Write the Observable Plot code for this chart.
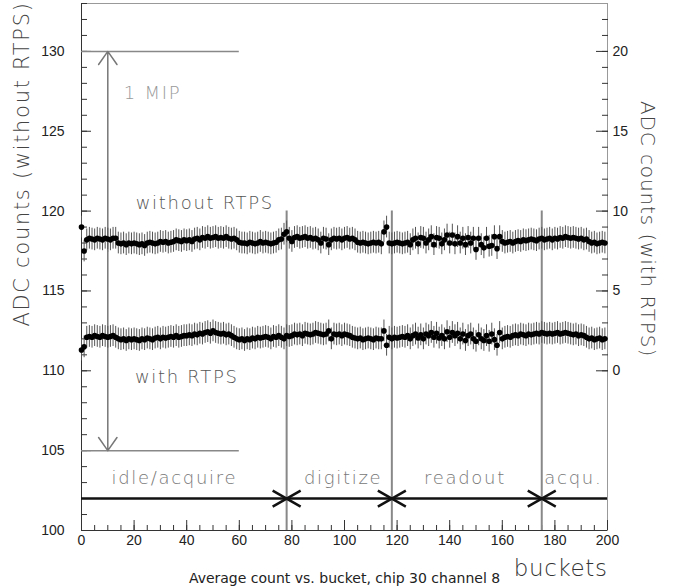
<!DOCTYPE html>
<html><head><meta charset="utf-8">
<script src="https://cdn.jsdelivr.net/npm/d3@7"></script>
<script src="https://cdn.jsdelivr.net/npm/@observablehq/plot@0.6"></script>
<style>
body{margin:0;background:#fff}
svg g[aria-label="text"] text{letter-spacing:1.7px}
</style>
</head><body><div id="chart"></div>
<script>
// ---- data ----
const withoutRTPS = [
119.0,117.5,118.2,118.3,118.25,118.2,118.3,118.25,118.2,118.3,
118.25,118.2,118.3,118.3,118.0,117.95,118.0,117.9,118.0,117.95,
118.0,117.95,117.9,117.95,117.85,118.0,118.05,118.0,117.95,118.0,
118.1,118.05,118.1,118.0,118.05,118.1,118.2,118.15,118.1,118.2,
118.15,118.2,118.1,118.25,118.3,118.2,118.35,118.3,118.4,118.3,
118.35,118.4,118.3,118.35,118.3,118.4,118.3,118.25,118.3,118.2,
118.05,118.0,118.0,117.95,118.05,118.0,117.95,118.0,118.1,118.0,
118.05,118.0,117.95,118.0,118.05,118.2,118.25,118.55,118.7,118.3,
118.1,118.35,118.4,118.3,118.35,118.4,118.3,118.35,118.25,118.3,
118.2,118.0,118.3,118.25,117.9,118.2,118.3,118.25,118.3,118.2,
118.3,118.35,118.25,118.3,118.2,118.05,118.0,118.05,118.0,117.95,
118.0,118.05,118.0,118.05,117.95,118.7,119.0,118.0,117.95,118.0,
118.05,118.0,117.95,118.0,118.05,117.9,118.2,118.3,117.95,118.35,
118.3,118.0,118.2,118.4,117.9,118.35,118.3,117.95,118.2,118.5,
118.0,118.5,117.95,118.4,118.0,118.3,117.9,118.35,118.0,118.3,
117.6,118.3,117.9,117.7,118.3,117.8,117.85,118.4,117.65,118.4,
118.1,118.0,118.05,118.1,118.0,118.1,118.15,118.1,118.2,118.15,
118.2,118.25,118.2,118.15,118.25,118.3,118.2,118.25,118.3,118.2,
118.3,118.25,118.35,118.3,118.4,118.35,118.3,118.35,118.3,118.25,
118.3,118.2,118.25,118.1,118.0,118.05,117.95,118.0,118.05,118.0
];
const withRTPS = [
111.3,111.5,112.1,112.15,112.1,112.2,112.15,112.1,112.2,112.15,
112.1,112.15,112.2,112.1,112.0,111.95,112.0,111.9,112.0,111.95,
112.0,111.95,111.9,112.0,111.95,112.05,112.0,111.95,112.05,112.1,
112.0,112.1,112.05,112.1,112.15,112.1,112.2,112.1,112.15,112.2,
112.2,112.25,112.2,112.3,112.25,112.35,112.3,112.4,112.45,112.35,
112.5,112.4,112.35,112.3,112.35,112.25,112.3,112.2,112.1,112.0,
111.95,112.0,111.9,112.0,111.95,112.05,112.0,112.1,112.05,112.1,
112.15,112.1,112.0,112.15,112.1,112.2,112.1,112.0,112.2,112.15,
112.2,112.3,112.25,112.3,112.2,112.35,112.3,112.25,112.3,112.4,
112.35,112.3,112.25,112.3,112.5,112.0,112.3,112.25,112.3,112.2,
112.3,112.25,112.2,112.1,112.05,112.0,112.05,111.95,112.0,112.05,
112.0,111.95,112.05,112.0,112.0,112.5,111.6,112.1,112.0,112.1,
112.05,112.1,112.15,112.1,112.2,112.0,112.2,112.3,112.05,112.25,
112.0,112.3,112.2,112.4,112.1,112.35,112.05,112.2,112.0,112.45,
112.1,112.4,112.2,112.35,112.0,112.3,111.9,112.2,112.3,112.0,
111.85,112.25,112.0,111.9,112.2,111.85,112.3,111.95,111.6,112.4,
112.0,112.1,112.15,112.1,112.2,112.25,112.2,112.3,112.25,112.2,
112.3,112.25,112.3,112.35,112.3,112.4,112.35,112.3,112.35,112.3,
112.35,112.4,112.3,112.35,112.4,112.35,112.3,112.25,112.3,112.2,
112.25,112.2,112.1,112.0,112.05,111.95,112.0,112.05,111.95,112.0
];
const errWithout = 0.68;
const errWith = 0.68;
const bucketIndex = withoutRTPS.map((_, i) => i);

const xTicks = [0,20,40,60,80,100,120,140,160,180,200];
const xMinorTicks = d3.range(0, 201, 5);
const yTicksLeft = [100,105,110,115,120,125,130];
const yMinorLeft = d3.range(100, 134, 1);
const rightOffset = 110;             // right axis = left axis - 110
const yTicksRight = [0,5,10,15,20];
const yMinorRight = d3.range(0, 23, 1);

const phaseBoundaries = [78, 118, 175];
const phaseLabels = ["idle/acquire", "digitize", "readout", "acqu."];
const phaseLabelX = [35.3, 99.5, 145.8, 187];
const phaseLabelY = 103.3;
const phaseLineY = 102;
const boundaryTop = 120;

const mipLow = 105, mipHigh = 130, mipX = 10, mipLineEnd = 60;
const seriesLabels = ["without RTPS", "with RTPS", "1 MIP"];
const seriesLabelX = [20.6, 20.3, 16.1];
const seriesLabelY = [120.48, 109.57, 127.38];

// ---- chart ----
const rows = bucketIndex.map(i => ({b: i, a: withoutRTPS[i], r: withRTPS[i]}));
const wideX = {draw(ctx) { const w = 14, h = 8; ctx.moveTo(-w,-h); ctx.lineTo(w,h); ctx.moveTo(-w,h); ctx.lineTo(w,-h); }};
const annFont = "DejaVu Sans, sans-serif";

const chart = Plot.plot({
  width: 678, height: 586,
  marginLeft: 81, marginRight: 71, marginTop: 3, marginBottom: 56,
  x: {domain: [0, 200]},
  y: {domain: [100, 133]},
  style: {fontFamily: "Liberation Sans, Arial, sans-serif", fontSize: "14px", color: "#222", background: "white"},
  marks: [
    Plot.frame({stroke: "#999"}),
    Plot.ruleX([0], {stroke: "#333"}),
    Plot.ruleY([100], {stroke: "#333"}),
    // axes (inward ticks)
    Plot.axisX(xMinorTicks, {anchor: "bottom", tickSize: -5, tickFormat: () => "", label: null, stroke: "#333"}),
    Plot.axisX(xTicks, {anchor: "bottom", tickSize: -10, tickFormat: () => "", label: null, stroke: "#333"}),
    Plot.axisX(xTicks, {anchor: "bottom", tickSize: 0, tickPadding: 5, label: null, fill: "#222"}),
    Plot.axisY(yMinorLeft, {anchor: "left", tickSize: -6, tickFormat: () => "", label: null, stroke: "#333"}),
    Plot.axisY(yTicksLeft, {anchor: "left", tickSize: -10, tickFormat: () => "", label: null, stroke: "#333"}),
    Plot.axisY(yTicksLeft, {anchor: "left", tickSize: 0, tickPadding: 17, label: null, fill: "#222"}),
    Plot.axisY(yMinorRight.map(v => v + rightOffset), {anchor: "right", tickSize: -6, tickFormat: () => "", label: null, stroke: "#333"}),
    Plot.axisY(yTicksRight.map(v => v + rightOffset), {anchor: "right", tickSize: -12, tickFormat: () => "", label: null, stroke: "#333"}),
    Plot.axisY(yTicksRight.map(v => v + rightOffset), {anchor: "right", tickSize: 0, tickPadding: 5, label: null, fill: "#222", tickFormat: d => d - rightOffset}),
    // MIP markers
    Plot.ruleY([mipLow, mipHigh], {x1: 0, x2: mipLineEnd, stroke: "#888", strokeWidth: 1.5}),
    Plot.arrow([mipHigh, mipLow], {x1: mipX, x2: mipX, y1: (mipLow + mipHigh) / 2, y2: d => d, stroke: "#777", strokeWidth: 1.5, headLength: 16, headAngle: 70}),
    // phase boundaries
    Plot.ruleX(phaseBoundaries, {y1: 100, y2: boundaryTop, stroke: "#888", strokeWidth: 2}),
    Plot.ruleY([phaseLineY], {x1: 0, x2: 200, stroke: "#111", strokeWidth: 2.5}),
    Plot.dot(phaseBoundaries, {x: d => d, y: phaseLineY, symbol: wideX, stroke: "#111", strokeWidth: 2.5, r: 8}),
    // error bars & points
    Plot.ruleX(rows, {x: "b", y1: d => d.a - errWithout, y2: d => d.a + errWithout, stroke: "#555", strokeWidth: 1}),
    Plot.ruleX(rows, {x: "b", y1: d => d.r - errWith, y2: d => d.r + errWith, stroke: "#555", strokeWidth: 1}),
    Plot.dot(rows, {x: "b", y: "a", r: 2.8, fill: "#000", stroke: null}),
    Plot.dot(rows, {x: "b", y: "r", r: 2.8, fill: "#000", stroke: null}),
    // annotations
    Plot.text(seriesLabels, {x: (d, i) => seriesLabelX[i], y: (d, i) => seriesLabelY[i], text: d => d, textAnchor: "start",
      fill: (d, i) => i === 2 ? "#999" : "#555", fontSize: 18, fontFamily: annFont, fontWeight: 300}),
    Plot.text(phaseLabels, {x: (d, i) => phaseLabelX[i], y: phaseLabelY, text: d => d, textAnchor: "middle",
      fill: "#777", fontSize: 18, fontFamily: annFont, fontWeight: 300}),
    // axis titles
    Plot.text(["ADC counts (without RTPS)"], {frameAnchor: "left", dx: -59, dy: -103, rotate: -90, text: d => d,
      textAnchor: "middle", lineAnchor: "middle", fill: "#444", fontSize: 21, fontFamily: annFont, fontWeight: 300}),
    Plot.text(["ADC counts (with RTPS)"], {frameAnchor: "right", dx: 40, dy: -38, rotate: 90, text: d => d,
      textAnchor: "middle", lineAnchor: "middle", fill: "#444", fontSize: 20, fontFamily: annFont, fontWeight: 300}),
    Plot.text(["buckets"], {frameAnchor: "bottom-right", dy: 38, textAnchor: "end", lineAnchor: "middle", text: d => d,
      fill: "#333", fontSize: 23, fontFamily: annFont, fontWeight: 300}),
    Plot.text(["Average count vs. bucket, chip 30 channel 8"], {frameAnchor: "bottom", dy: 48, lineAnchor: "middle", text: d => d,
      fill: "#222", fontSize: 14, fontFamily: annFont})
  ]
});
// per-text letter spacing tweaks
d3.select(chart).selectAll('g[aria-label="text"] text').each(function() {
  const t = this.textContent;
  if (t.startsWith("Average")) this.style.letterSpacing = "0px";
  else if (t === "buckets") this.style.letterSpacing = "0.6px";
  else if (t === "ADC counts (with RTPS)") this.style.letterSpacing = "0.9px";
});
document.getElementById("chart").appendChild(chart);
</script>
</body></html>
